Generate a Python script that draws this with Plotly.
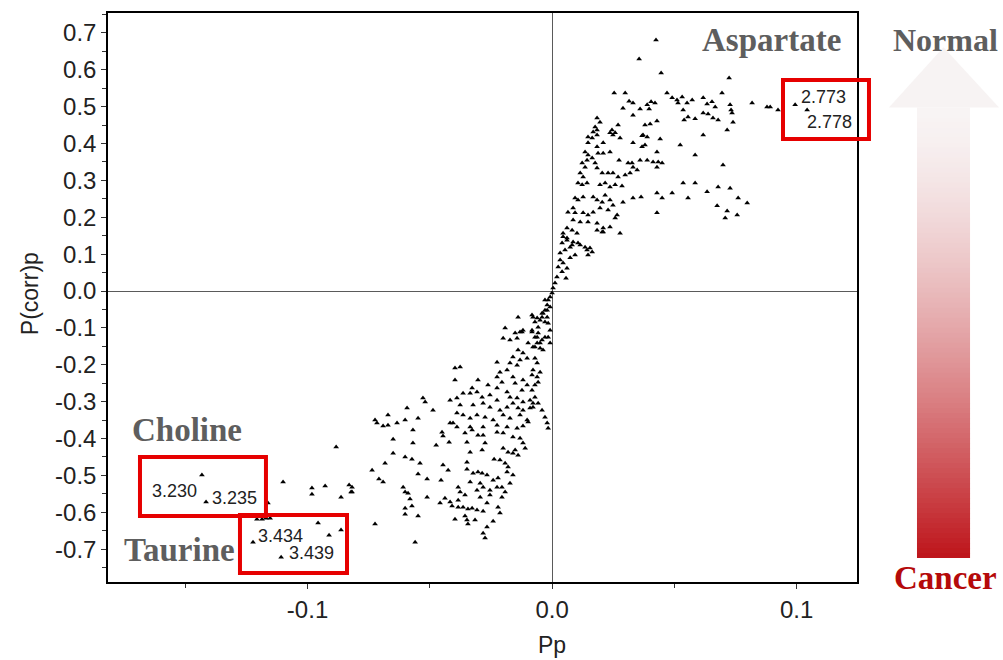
import plotly.graph_objects as go

top_plateau = [
    (0.0425, 0.681), (0.0356, 0.629), (0.0446, 0.591), (0.0724, 0.578), (0.0254, 0.537),
    (0.0299, 0.537), (0.0315, 0.515), (0.0331, 0.510), (0.0290, 0.496), (0.0360, 0.494),
    (0.0389, 0.505), (0.0405, 0.513), (0.0421, 0.510), (0.0397, 0.494), (0.0470, 0.537),
    (0.0491, 0.524), (0.0511, 0.518), (0.0515, 0.510), (0.0532, 0.526), (0.0552, 0.510),
    (0.0573, 0.518), (0.0536, 0.491), (0.0618, 0.524), (0.0634, 0.507), (0.0654, 0.513),
    (0.0667, 0.499), (0.0695, 0.537), (0.0728, 0.505), (0.0732, 0.491), (0.0736, 0.483),
    (0.0618, 0.483), (0.0638, 0.480), (0.0556, 0.472), (0.0585, 0.467), (0.0540, 0.464),
    (0.0658, 0.469), (0.0679, 0.464), (0.0740, 0.458), (0.0818, 0.510), (0.0879, 0.499),
    (0.0892, 0.499), (0.0924, 0.491), (0.0994, 0.505), (0.1043, 0.491), (0.0331, 0.477),
    (0.0429, 0.461), (0.0380, 0.450), (0.0401, 0.453), (0.0184, 0.469), (0.0196, 0.458),
    (0.0176, 0.445), (0.0184, 0.437), (0.0245, 0.437), (0.0258, 0.429), (0.0368, 0.421),
    (0.0389, 0.418), (0.0618, 0.423), (0.0147, 0.418), (0.0164, 0.415), (0.0270, 0.450),
]
upper_branch = [
    (0.0168, 0.431), (0.0184, 0.423), (0.0237, 0.429), (0.0249, 0.423), (0.0278, 0.415),
    (0.0372, 0.423), (0.0442, 0.412), (0.0716, 0.437), (0.0147, 0.402), (0.0184, 0.391),
    (0.0209, 0.402), (0.0237, 0.377), (0.0331, 0.402), (0.0368, 0.391), (0.0380, 0.396),
    (0.0429, 0.377), (0.0524, 0.396), (0.0585, 0.369), (0.0699, 0.342), (0.0135, 0.377),
    (0.0147, 0.369), (0.0164, 0.361), (0.0188, 0.374), (0.0209, 0.374), (0.0274, 0.355),
    (0.0311, 0.347), (0.0327, 0.347), (0.0360, 0.355), (0.0389, 0.355), (0.0413, 0.350),
    (0.0434, 0.350), (0.0450, 0.347), (0.0429, 0.336), (0.0331, 0.336), (0.0348, 0.328),
    (0.0319, 0.320), (0.0123, 0.347), (0.0135, 0.336), (0.0143, 0.355), (0.0176, 0.347),
    (0.0184, 0.334), (0.0205, 0.320), (0.0229, 0.320), (0.0249, 0.320), (0.0270, 0.309),
    (0.0299, 0.315), (0.0115, 0.320), (0.0127, 0.309), (0.0106, 0.293), (0.0123, 0.288),
    (0.0143, 0.293), (0.0196, 0.288), (0.0217, 0.293), (0.0237, 0.282), (0.0258, 0.288),
    (0.0286, 0.285), (0.0536, 0.293), (0.0585, 0.293), (0.0634, 0.269), (0.0679, 0.282),
    (0.0728, 0.279), (0.0429, 0.266), (0.0450, 0.252), (0.0491, 0.266), (0.0556, 0.252),
    (0.0761, 0.252), (0.0798, 0.239), (0.0675, 0.231), (0.0716, 0.217), (0.0757, 0.206),
    (0.0708, 0.198), (0.0429, 0.212), (0.0290, 0.241), (0.0331, 0.252), (0.0364, 0.255),
    (0.0094, 0.252), (0.0106, 0.247), (0.0127, 0.255), (0.0168, 0.255), (0.0184, 0.247),
    (0.0205, 0.241), (0.0217, 0.260), (0.0237, 0.247), (0.0196, 0.225), (0.0229, 0.220),
    (0.0249, 0.233), (0.0065, 0.214), (0.0086, 0.225), (0.0094, 0.212), (0.0127, 0.212),
    (0.0147, 0.206), (0.0168, 0.214), (0.0086, 0.193), (0.0115, 0.187), (0.0147, 0.187),
    (0.0184, 0.184), (0.0209, 0.171), (0.0237, 0.174), (0.0258, 0.198), (0.0266, 0.206),
    (0.0278, 0.157), (0.0061, 0.171), (0.0082, 0.165), (0.0102, 0.157), (0.0045, 0.147),
    (0.0061, 0.138), (0.0082, 0.125), (0.0106, 0.130), (0.0155, 0.117), (0.0135, 0.119),
    (0.0184, 0.165), (0.0205, 0.160),
]
central_stem = [
    (0.0045, 0.157), (0.0061, 0.144), (0.0041, 0.130), (0.0074, 0.119), (0.0053, 0.111),
    (0.0033, 0.103), (0.0086, 0.133), (0.0115, 0.125), (0.0143, 0.111), (0.0147, 0.098),
    (0.0164, 0.106), (0.0209, 0.160), (0.0033, 0.084), (0.0045, 0.076), (0.0025, 0.065),
    (0.0041, 0.052), (0.0061, 0.062), (0.0020, 0.038), (0.0012, 0.022), (0.0004, 0.008),
    (0.0000, -0.005), (-0.0008, -0.016), (-0.0016, -0.024), (-0.0020, -0.038), (-0.0029, -0.052),
    (-0.0037, -0.060), (-0.0041, -0.071), (-0.0049, -0.079), (-0.0008, -0.043), (-0.0020, -0.071),
    (-0.0016, -0.087), (-0.0078, -0.071), (-0.0070, -0.084), (-0.0057, -0.098), (-0.0082, -0.106),
    (-0.0061, -0.125), (-0.0049, -0.141), (-0.0070, -0.152), (-0.0098, -0.141), (-0.0123, -0.111),
    (-0.0008, -0.106), (-0.0016, -0.125), (-0.0008, -0.141), (0.0074, 0.090), (0.0057, 0.035),
    (0.0094, 0.098), (-0.0029, -0.024),
]
lower_branch = [
    (-0.0139, -0.071), (-0.0082, -0.065), (-0.0061, -0.073), (-0.0041, -0.060), (-0.0029, -0.084),
    (-0.0020, -0.052), (-0.0192, -0.100), (-0.0151, -0.114), (-0.0131, -0.111), (-0.0119, -0.106),
    (-0.0200, -0.128), (-0.0172, -0.133), (-0.0143, -0.128), (-0.0082, -0.111), (-0.0070, -0.125),
    (-0.0057, -0.114), (-0.0041, -0.133), (-0.0029, -0.125), (-0.0061, -0.141), (-0.0078, -0.152),
    (-0.0049, -0.155), (-0.0037, -0.160), (-0.0139, -0.160), (-0.0119, -0.168), (-0.0160, -0.179),
    (-0.0131, -0.187), (-0.0102, -0.182), (-0.0225, -0.193), (-0.0172, -0.195), (-0.0143, -0.201),
    (-0.0070, -0.182), (-0.0061, -0.195), (-0.0078, -0.214), (-0.0082, -0.228), (-0.0061, -0.233),
    (-0.0057, -0.247), (-0.0070, -0.255), (-0.0049, -0.220), (-0.0184, -0.214), (-0.0213, -0.220),
    (-0.0225, -0.233), (-0.0205, -0.247), (-0.0397, -0.209), (-0.0376, -0.206), (-0.0397, -0.241),
    (-0.0303, -0.241), (-0.0262, -0.255), (-0.0160, -0.233), (-0.0151, -0.250), (-0.0119, -0.241),
    (-0.0102, -0.255), (-0.0123, -0.269), (-0.0327, -0.263), (-0.0307, -0.274), (-0.0335, -0.277),
    (-0.0286, -0.288), (-0.0254, -0.282), (-0.0225, -0.263), (-0.0184, -0.274), (-0.0172, -0.288),
    (-0.0143, -0.290), (-0.0119, -0.301), (-0.0090, -0.296), (-0.0078, -0.304), (-0.0528, -0.290),
    (-0.0519, -0.301), (-0.0417, -0.296), (-0.0389, -0.290), (-0.0364, -0.277), (-0.0376, -0.309),
    (-0.0323, -0.309), (-0.0282, -0.304), (-0.0254, -0.315), (-0.0225, -0.296), (-0.0213, -0.323),
    (-0.0184, -0.315), (-0.0160, -0.304), (-0.0139, -0.317), (-0.0119, -0.323), (-0.0090, -0.317),
    (-0.0078, -0.315), (-0.0593, -0.317), (-0.0487, -0.323), (-0.0671, -0.336), (-0.0601, -0.350),
    (-0.0548, -0.345), (-0.0724, -0.350), (-0.0716, -0.358), (-0.0691, -0.366), (-0.0671, -0.364),
    (-0.0634, -0.358), (-0.0389, -0.331), (-0.0364, -0.336), (-0.0335, -0.345), (-0.0307, -0.336),
    (-0.0274, -0.342), (-0.0241, -0.350), (-0.0200, -0.336), (-0.0172, -0.345), (-0.0131, -0.336),
    (-0.0102, -0.350), (-0.0417, -0.358), (-0.0389, -0.369), (-0.0335, -0.369), (-0.0282, -0.369),
    (-0.0225, -0.364), (-0.0184, -0.369), (-0.0143, -0.372), (-0.0119, -0.366), (-0.0082, -0.269),
    (-0.0070, -0.288), (-0.0057, -0.304), (-0.0041, -0.323), (-0.0029, -0.342), (-0.0020, -0.358),
    (-0.0016, -0.372),
]
bottom_cloud = [
    (-0.0569, -0.377), (-0.0569, -0.412), (-0.0650, -0.402), (-0.0650, -0.440), (-0.0683, -0.467),
    (-0.0601, -0.450), (-0.0573, -0.456), (-0.0540, -0.467), (-0.0736, -0.486), (-0.0708, -0.510),
    (-0.0691, -0.518), (-0.0818, -0.532), (-0.0818, -0.545), (-0.0548, -0.496), (-0.0511, -0.510),
    (-0.0474, -0.418), (-0.0450, -0.383), (-0.0446, -0.393), (-0.0421, -0.410), (-0.0405, -0.358),
    (-0.0356, -0.385), (-0.0327, -0.377), (-0.0348, -0.410), (-0.0303, -0.391), (-0.0282, -0.391),
    (-0.0274, -0.412), (-0.0286, -0.431), (-0.0335, -0.437), (-0.0098, -0.355), (-0.0225, -0.383),
    (-0.0200, -0.385), (-0.0160, -0.396), (-0.0131, -0.399), (-0.0119, -0.412), (-0.0110, -0.426),
    (-0.0200, -0.426), (-0.0180, -0.437), (-0.0160, -0.440), (-0.0139, -0.445), (-0.0151, -0.431),
    (-0.0446, -0.472), (-0.0425, -0.486), (-0.0454, -0.513), (-0.0348, -0.464), (-0.0348, -0.483),
    (-0.0323, -0.494), (-0.0303, -0.491), (-0.0286, -0.494), (-0.0266, -0.499), (-0.0237, -0.456),
    (-0.0213, -0.458), (-0.0192, -0.467), (-0.0180, -0.477), (-0.0184, -0.491), (-0.0160, -0.499),
    (-0.0172, -0.521), (-0.0221, -0.507), (-0.0241, -0.513), (-0.0225, -0.532), (-0.0205, -0.532),
    (-0.0192, -0.545), (-0.0205, -0.559), (-0.0335, -0.518), (-0.0294, -0.521), (-0.0282, -0.532),
    (-0.0254, -0.540), (-0.0307, -0.540), (-0.0294, -0.559), (-0.0254, -0.553), (-0.0266, -0.575),
    (-0.0384, -0.532), (-0.0376, -0.545), (-0.0356, -0.553), (-0.0384, -0.567), (-0.0609, -0.532),
    (-0.0601, -0.545), (-0.0589, -0.548), (-0.0581, -0.564), (-0.0601, -0.589), (-0.0573, -0.583),
    (-0.0548, -0.610), (-0.0601, -0.605), (-0.0511, -0.559), (-0.0458, -0.575), (-0.0438, -0.562),
    (-0.0417, -0.572), (-0.0409, -0.583), (-0.0384, -0.586), (-0.0364, -0.586), (-0.0344, -0.591),
    (-0.0327, -0.589), (-0.0307, -0.594), (-0.0282, -0.597), (-0.0397, -0.619), (-0.0356, -0.610),
    (-0.0348, -0.621), (-0.0344, -0.632), (-0.0315, -0.621), (-0.0241, -0.624), (-0.0213, -0.602),
    (-0.0221, -0.586), (-0.0266, -0.640), (-0.0282, -0.657), (-0.0274, -0.670), (-0.0724, -0.632),
    (-0.0560, -0.681),
]
left_tail = [
    (-0.1432, -0.499), (-0.1415, -0.572), (-0.1100, -0.518), (-0.0982, -0.534), (-0.0982, -0.551),
    (-0.0928, -0.529), (-0.0883, -0.423), (-0.0863, -0.559), (-0.0830, -0.526), (-0.0822, -0.545),
    (-0.1162, -0.575), (-0.1207, -0.619), (-0.1186, -0.619), (-0.1170, -0.616), (-0.1153, -0.616),
    (-0.0957, -0.629), (-0.0912, -0.662), (-0.0863, -0.648), (-0.1223, -0.681), (-0.1108, -0.722),
]

groups = [top_plateau, upper_branch, central_stem, lower_branch, bottom_cloud, left_tail]
pp = [p[0] for g in groups for p in g]
pcorr = [p[1] for g in groups for p in g]

y_ticks = [-0.7, -0.6, -0.5, -0.4, -0.3, -0.2, -0.1, 0.0, 0.1, 0.2, 0.3, 0.4, 0.5, 0.6, 0.7]
x_ticks = [-0.1, 0.0, 0.1]
x_minor = [-0.15, -0.05, 0.05]
y_minor = [-0.75, -0.65, -0.55, -0.45, -0.35, -0.25, -0.15, -0.05,
           0.05, 0.15, 0.25, 0.35, 0.45, 0.55, 0.65, 0.75]

# variable ids shown in the red boxes, with label anchor (paper) positions
box_labels = ["2.773", "2.778", "3.230", "3.235", "3.434", "3.439"]
box_label_pos = [(0.9225, 0.8524), (0.9306, 0.8084), (0.0561, 0.1599),
                 (0.1362, 0.1476), (0.1976, 0.0808), (0.2390, 0.0510)]
metabolites = ["Aspartate", "Choline", "Taurine"]
metabolite_pos = [(0.8865, 0.9525), (0.1055, 0.2671), (0.0948, 0.0562)]
boxes = [(0.9012, 0.7786, 1.0160, 0.8822),
         (0.0427, 0.1160, 0.2109, 0.2197),
         (0.1762, 0.0158, 0.3191, 0.1178)]

SANS = "Liberation Sans, Arial, sans-serif"
SERIF = "Liberation Serif, Times New Roman, serif"

fig = go.Figure()
fig.add_trace(go.Scatter(
    x=pp, y=pcorr, mode="markers",
    marker=dict(symbol="triangle-up", size=5, color="black", line=dict(width=0)),
    hoverinfo="x+y", showlegend=False,
))

axis_common = dict(
    showgrid=False, showline=True, linecolor="black", linewidth=1.5, mirror=True,
    ticks="outside", ticklen=5, tickcolor="#333", tickwidth=1,
    zeroline=True, zerolinecolor="#5a5a5a", zerolinewidth=1,
    tickfont=dict(family=SANS, size=24, color="#222"),
)

fig.update_xaxes(
    range=[-0.1816, 0.1247], tickvals=x_ticks, ticktext=["%.1f" % v for v in x_ticks],
    minor=dict(tickvals=x_minor, ticks="outside", ticklen=4, tickcolor="#333"),
    **axis_common,
)
fig.update_yaxes(
    range=[-0.789, 0.754], tickvals=y_ticks, ticktext=["%.1f" % v for v in y_ticks],
    minor=dict(tickvals=y_minor, ticks="outside", ticklen=4, tickcolor="#333"),
    **axis_common,
)

annotations = []
# axis titles
annotations.append(dict(text="Pp", x=0.5928, y=-0.111, xref="paper", yref="paper",
                        xanchor="center", yanchor="middle", showarrow=False,
                        font=dict(family=SANS, size=23, color="#222")))
annotations.append(dict(text="P(corr)p", x=-0.104, y=0.506, xref="paper", yref="paper",
                        xanchor="center", yanchor="middle", textangle=-90, showarrow=False,
                        font=dict(family=SANS, size=23, color="#222")))
for t, (ax, ay) in zip(box_labels, box_label_pos):
    annotations.append(dict(text=t, x=ax, y=ay, xref="paper", yref="paper",
                            xanchor="left", yanchor="middle", showarrow=False,
                            font=dict(family=SANS, size=18, color="#222")))
for t, (ax, ay) in zip(metabolites, metabolite_pos):
    annotations.append(dict(text="<b>%s</b>" % t, x=ax, y=ay, xref="paper", yref="paper",
                            xanchor="center", yanchor="middle", showarrow=False,
                            font=dict(family=SERIF, size=33, color="#5e5e5e")))
annotations.append(dict(text="<b>Normal</b>", x=1.1188, y=0.9525, xref="paper", yref="paper",
                        xanchor="center", yanchor="middle", showarrow=False,
                        font=dict(family=SERIF, size=32, color="#5e5e5e")))
annotations.append(dict(text="<b>Cancer</b>", x=1.1188, y=0.007, xref="paper", yref="paper",
                        xanchor="center", yanchor="middle", showarrow=False,
                        font=dict(family=SERIF, size=33, color="#b50a0a")))

shapes = []
for (x0, y0, x1, y1) in boxes:
    shapes.append(dict(type="rect", xref="paper", yref="paper", x0=x0, y0=y0, x1=x1, y1=y1,
                       line=dict(color="#e60000", width=4), fillcolor="rgba(0,0,0,0)",
                       layer="above"))

# gradient arrow (Normal at top -> Cancer at bottom)
shaft_x0, shaft_x1 = 1.0801, 1.1509
shaft_top, shaft_bot = 0.834, 0.042
n = 90
top_rgb = (248, 244, 244)
bot_rgb = (190, 20, 26)
step = (shaft_top - shaft_bot) / n
for i in range(n):
    ya = shaft_top - step * i
    yb = max(shaft_bot, ya - step * 2.2)
    t = ((i + 0.5) / n) ** 1.5
    c = tuple(int(round(top_rgb[k] + (bot_rgb[k] - top_rgb[k]) * t)) for k in range(3))
    shapes.append(dict(type="rect", xref="paper", yref="paper",
                       x0=shaft_x0, x1=shaft_x1, y0=yb, y1=ya,
                       line=dict(width=0, color="rgb(%d,%d,%d)" % c),
                       fillcolor="rgb(%d,%d,%d)" % c, layer="below"))
shapes.append(dict(type="path", xref="paper", yref="paper",
                   path="M 1.0427 0.834 L 1.1155 0.94 L 1.1896 0.834 Z",
                   line=dict(width=0), fillcolor="rgb(247,243,243)", layer="below"))

fig.update_layout(
    width=1003, height=660, autosize=False,
    margin=dict(l=108, r=146, t=13, b=78),
    paper_bgcolor="white", plot_bgcolor="white",
    annotations=annotations, shapes=shapes,
    showlegend=False,
)

fig.write_html("out.html")
